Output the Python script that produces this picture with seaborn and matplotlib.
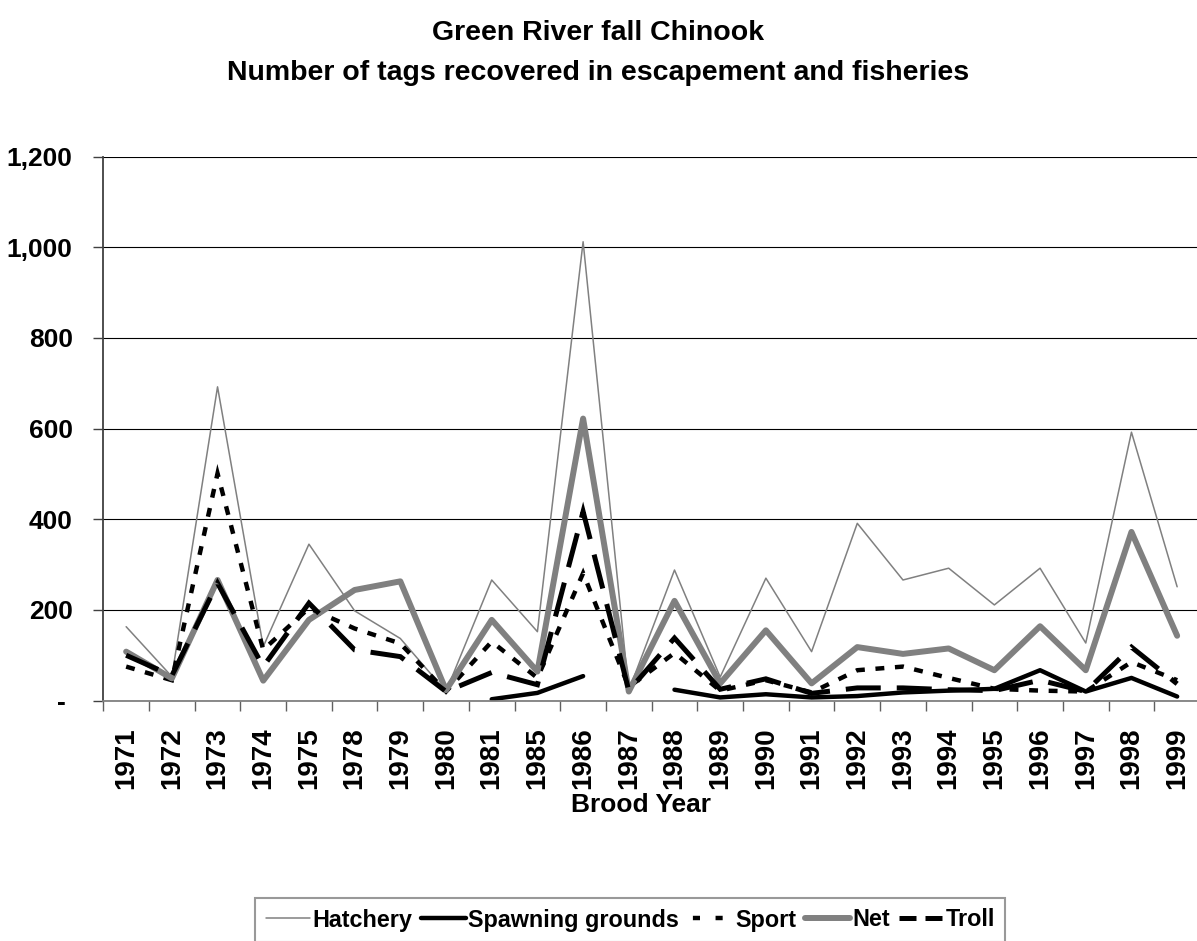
import numpy as np
import pandas as pd
import matplotlib
matplotlib.use("Agg")
import matplotlib.pyplot as plt
import seaborn as sns
from matplotlib.lines import Line2D
from matplotlib.ticker import FixedLocator

# Brood years with coded-wire tag recoveries
years = ["1971", "1972", "1973", "1974", "1975", "1978", "1979", "1980",
         "1981", "1985", "1986", "1987", "1988", "1989", "1990", "1991",
         "1992", "1993", "1994", "1995", "1996", "1997", "1998", "1999"]

nan = np.nan
hatchery = [163, 53, 692, 119, 345, 198, 137, 20, 266, 152, 1012, 22,
            288, 52, 270, 108, 391, 266, 292, 211, 292, 127, 592, 251]
spawning = [nan, nan, nan, nan, nan, nan, nan, nan, 3, 17, 54, nan,
            24, 7, 14, 7, 10, 18, 22, 26, 67, 20, 50, 9]
sport = [75, 45, 501, 112, 204, 159, 126, 20, 130, 50, 281, 30,
         105, 22, 45, 18, 67, 75, 50, 26, 22, 20, 85, 45]
net = [108, 49, 266, 44, 178, 244, 263, 23, 178, 64, 622, 20,
       220, 38, 155, 38, 118, 103, 115, 67, 164, 67, 372, 143]
troll = [100, 55, 259, 75, 215, 112, 97, 20, 62, 35, 417, 22,
         138, 25, 48, 16, 28, 28, 24, 22, 45, 20, 118, 37]

y_ticks = [0, 200, 400, 600, 800, 1000, 1200]
y_tick_labels = ["- ", "200", "400", "600", "800", "1,000", "1,200"]

series = [
    ("Hatchery", hatchery, dict(color="#808080", linewidth=1.1, linestyle="-")),
    ("Spawning grounds", spawning, dict(color="black", linewidth=3.2, linestyle="-")),
    ("Sport", sport, dict(color="black", linewidth=3.2, linestyle=(0, (2.0, 2.4)))),
    ("Net", net, dict(color="#808080", linewidth=4.3, linestyle="-")),
    ("Troll", troll, dict(color="black", linewidth=3.6, linestyle=(0, (7.0, 3.2)))),
]

# dash patterns used for the short legend samples
legend_dashes = {"Sport": (4.0, (1.6, 3.5)), "Troll": (0, (3.4, 1.8))}

# long-form table; a gap in a series starts a new segment
rows = []
for name, vals, _ in series:
    seg = 0
    prev_missing = False
    for i, v in enumerate(vals):
        if np.isnan(v):
            prev_missing = True
            continue
        if prev_missing:
            seg += 1
            prev_missing = False
        rows.append(dict(series=name, pos=i, year=years[i], tags=v, segment=seg))
df = pd.DataFrame(rows)

sns.set_theme(style="white")
plt.rcParams["font.family"] = ["Liberation Sans", "DejaVu Sans"]
plt.rcParams["font.weight"] = "bold"
for key in ["text.color", "axes.labelcolor", "xtick.labelcolor", "ytick.labelcolor"]:
    plt.rcParams[key] = "black"

W, H = 1197, 941
fig = plt.figure(figsize=(W / 100, H / 100), dpi=100)
fig.patch.set_facecolor("white")
ax = fig.add_axes([103.3 / W, 1 - 700.6 / H, 1096.7 / W, 544.1 / H])

for name, _, style in series:
    sub = df[df["series"] == name]
    sns.lineplot(data=sub, x="pos", y="tags", units="segment", estimator=None,
                 ax=ax, legend=False, solid_joinstyle="round",
                 dash_joinstyle="miter", dash_capstyle="butt", **style)

ax.set_xlim(-0.5, len(years) - 0.5)
ax.set_ylim(0, 1200)

# y axis
ax.set_yticks(y_ticks)
ax.set_yticklabels(y_tick_labels, fontsize=19, fontweight="bold")
ax.tick_params(axis="y", which="major", direction="out", length=7, width=1.0,
               color="#404040", pad=15, left=True)
ax.yaxis.grid(True, color="black", linewidth=0.8)
ax.xaxis.grid(False)
ax.set_axisbelow(True)

# x axis: labels at category centres, tick marks on category boundaries
ax.set_xticks(range(len(years)))
ax.set_xticklabels(years, rotation=90, fontsize=20, fontweight="bold")
ax.xaxis.set_minor_locator(FixedLocator(np.arange(-0.5, len(years), 1.0)))
ax.tick_params(axis="x", which="major", length=0, pad=19.5, bottom=True)
ax.tick_params(axis="x", which="minor", direction="out", length=7, width=1.0,
               color="#606060", bottom=True)

for s in ["top", "right"]:
    ax.spines[s].set_visible(False)
ax.spines["left"].set_color("#404040")
ax.spines["left"].set_linewidth(1.3)
ax.spines["bottom"].set_color("#808080")
ax.spines["bottom"].set_linewidth(1.3)

ax.set_ylabel("")
ax.set_xlabel("Brood Year", fontsize=19, fontweight="bold", va="center")
ax.xaxis.set_label_coords((641 - 103.3) / 1096.7, (700.6 - 805) / 544.1)

# two-line title
fig.text(0.5, 1 - 40 / H, "Green River fall Chinook", ha="center",
         va="baseline", fontsize=20.5, fontweight="bold")
fig.text(0.5, 1 - 80 / H, "Number of tags recovered in escapement and fisheries",
         ha="center", va="baseline", fontsize=20.5, fontweight="bold")

handles = []
for name, _, style in series:
    st = dict(style)
    if name in legend_dashes:
        st["linestyle"] = legend_dashes[name]
    handles.append(Line2D([0], [0], dash_capstyle="butt", **st))
labels = [name for name, _, _ in series]
leg = fig.legend(handles, labels, loc="upper left",
                 bbox_to_anchor=(255 / W, 1 - 898 / H), borderaxespad=0,
                 ncol=5, frameon=True, prop=dict(size=16.8, weight="bold"),
                 handlelength=1.9, handletextpad=0.1, columnspacing=0.4,
                 borderpad=0.45, fancybox=False)
leg.get_frame().set_edgecolor("#808080")
leg.get_frame().set_linewidth(1.5)

fig.savefig("out.png", dpi=100, facecolor="white")
